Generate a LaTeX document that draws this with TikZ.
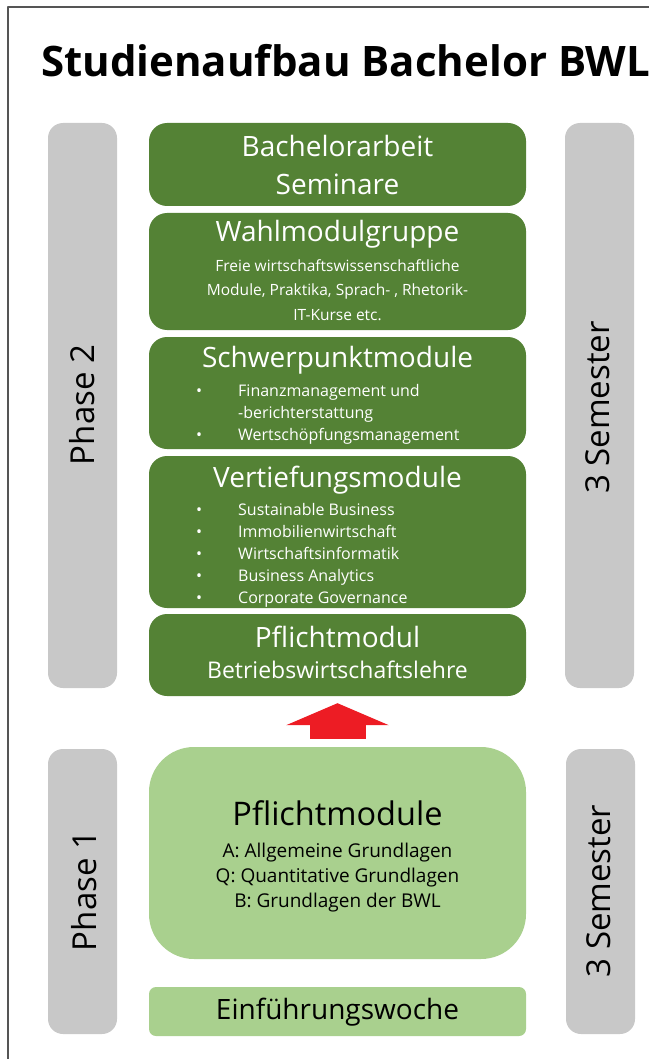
\documentclass[tikz,border=0pt]{standalone}
\usepackage{fontspec}
\setmainfont{Open Sans}
\usetikzlibrary{arrows.meta}
\definecolor{dunkelgruen}{RGB}{84,130,53}
\definecolor{hellgruen}{RGB}{169,208,142}
\definecolor{balkengrau}{RGB}{200,200,200}
\definecolor{pfeilrot}{RGB}{237,28,36}
\definecolor{rahmengrau}{RGB}{85,85,85}
\newcommand{\fs}[2]{\fontsize{#1}{#2}\selectfont}
\newcommand{\zeilen}[1]{\begin{tabular}[t]{@{}c@{}}#1\end{tabular}}
\newcommand{\punkte}[1]{\begin{tabular}[t]{@{}p{42pt}@{}l@{}}#1\end{tabular}}

\begin{document}
\begin{tikzpicture}[x=1pt,y=-1pt,line join=round,
		kasten/.style={inner sep=0pt,minimum width=377pt},
		modul/.style={kasten,fill=dunkelgruen,rounded corners=18pt},
		grund/.style={kasten,fill=hellgruen},
		balken/.style={fill=balkengrau,rounded corners=15pt,inner sep=0pt,minimum width=69pt},
		kopf/.style={anchor=base,inner sep=0pt,text=white,font=\fs{28}{38}},
		klein/.style={anchor=base,inner sep=0pt,text=white,font=\fs{15.5}{24.5}},
		liste/.style={anchor=base west,inner sep=0pt,text=white,font=\fs{16}{22.2}},
		phase/.style={anchor=base,inner sep=0pt,rotate=90,font=\fs{33}{40}}]
	\useasboundingbox (0,0) rectangle (649,1059);
	\draw[rahmengrau,line width=2pt] (7.5,1059)--(7.5,7)--(649,7);
	\node[anchor=base west,inner sep=0pt,font=\bfseries\fs{42}{50}] (titel) at (41,77) {Studienaufbau Bachelor BWL};
	% graue Balken
	\node[balken,minimum height=565pt] (balkenA) at (82.5,405.5) {};
	\node[balken,minimum height=565pt] (balkenB) at (599.5,405.5) {};
	\node[balken,minimum height=285pt] (balkenC) at (82.5,891.5) {};
	\node[balken,minimum height=285pt] (balkenD) at (600.5,891.5) {};
	\path
	(94,405) node[phase] (phaseZwei) {Phase 2}
	(609,407.5) node[phase] (semZwei) {3 Semester}
	(96,891) node[phase] (phaseEins) {Phase 1}
	(610,891) node[phase] (semEins) {3 Semester}
	;
	% Phase 2
	\node[modul,minimum height=83pt] (bachelor) at (337.5,164.5) {};
	\node[modul,minimum height=117pt] (wahl) at (337.5,271.5) {};
	\node[modul,minimum height=112pt] (schwer) at (337.5,393) {};
	\node[modul,minimum height=152pt] (vertief) at (337.5,532) {};
	\node[modul,minimum height=82pt] (pflichtBWL) at (337.5,655) {};
	\path
	(337.5,157) node[kopf] {\zeilen{Bachelorarbeit\\Seminare}}
	(337.5,242) node[kopf] {Wahlmodulgruppe}
	(337.5,271) node[klein] {\zeilen{Freie wirtschaftswissenschaftliche\\Module, Praktika, Sprach- , Rhetorik-\\IT-Kurse etc.}}
	(337.5,367) node[kopf] {Schwerpunktmodule}
	(196,396) node[liste] {\punkte{• & Finanzmanagement und\\ & -berichterstattung\\• & Wertschöpfungsmanagement}}
	(337.5,487) node[kopf] {Vertiefungsmodule}
	(196,515) node[liste] {\punkte{• & Sustainable Business\\• & Immobilienwirtschaft\\• & Wirtschaftsinformatik\\• & Business Analytics\\• & Corporate Governance}}
	(337.5,647) node[kopf] {Pflichtmodul}
	(337.5,678) node[kopf,font=\fs{23}{30}] {Betriebswirtschaftslehre}
	;
	% Phase 1
	\node[grund,rounded corners=45pt,minimum height=212pt] (pflicht) at (337.5,853) {};
	\node[grund,rounded corners=7pt,minimum height=49pt] (einf) at (337.5,1011.5) {};
	\path
	(337.5,825) node[kopf,text=black,font=\fs{32.5}{40}] {Pflichtmodule}
	(337.5,857) node[kopf,text=black,font=\fs{19}{25}] {\zeilen{A: Allgemeine Grundlagen\\Q: Quantitative Grundlagen\\B: Grundlagen der BWL}}
	(337.5,1019) node[kopf,text=black] {Einführungswoche}
	;
	\draw[pfeilrot,line width=56pt,-{Triangle[width=102pt,length=22pt]}] ([yshift=8pt]pflicht.north)--([yshift=-7pt]pflichtBWL.south);
\end{tikzpicture}
\end{document}
